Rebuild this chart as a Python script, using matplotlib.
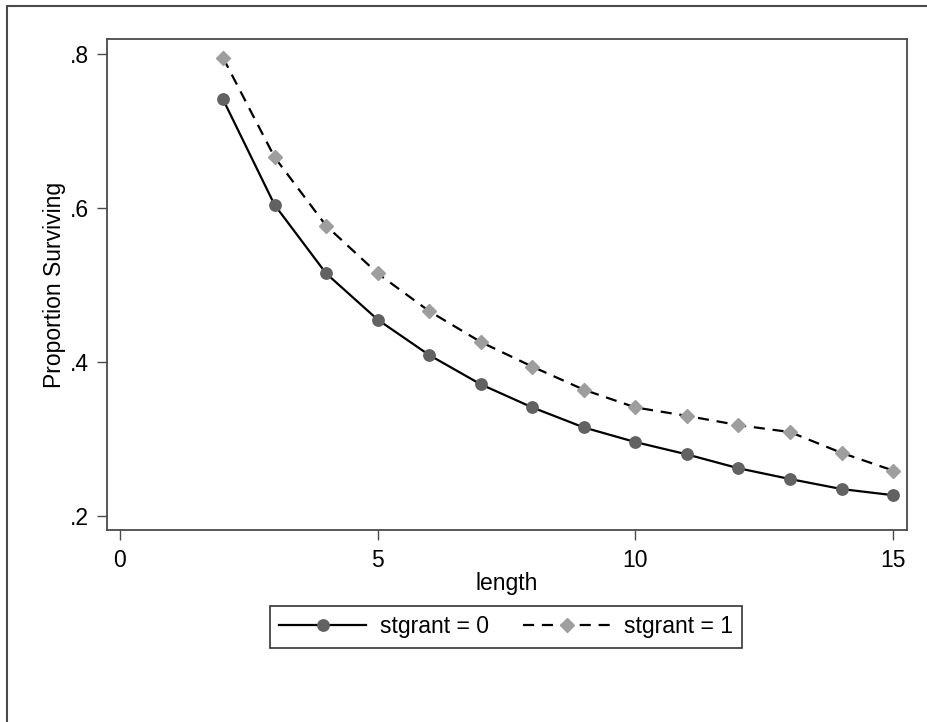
import matplotlib
matplotlib.use("Agg")
import matplotlib.pyplot as plt
from matplotlib.patches import Rectangle

plt.rcParams['font.family'] = ['Liberation Sans', 'DejaVu Sans']

# survival proportions by length, for each stgrant group
length = [2, 3, 4, 5, 6, 7, 8, 9, 10, 11, 12, 13, 14, 15]
surv_g0 = [0.741, 0.604, 0.515, 0.455, 0.409, 0.371, 0.341, 0.315,
           0.296, 0.280, 0.262, 0.248, 0.235, 0.227]
surv_g1 = [0.795, 0.666, 0.577, 0.515, 0.466, 0.426, 0.394, 0.364,
           0.341, 0.330, 0.318, 0.309, 0.282, 0.259]
series_labels = ['stgrant = 0', 'stgrant = 1']
xticks = [0, 5, 10, 15]
yticks = [0.2, 0.4, 0.6, 0.8]
ytick_labels = ['.2', '.4', '.6', '.8']

W, H = 928, 722
fig = plt.figure(figsize=(W / 100, H / 100), dpi=100)
ax = fig.add_axes([107 / W, 1 - 530 / H, (907 - 107) / W, (530 - 39) / H])

fs = 16.5
frame_col = '#4a4a4a'

ax.plot(length, surv_g0, color='black', lw=1.6, marker='o', ms=8.2,
        mfc='#626262', mec='#626262', label=series_labels[0])
ax.plot(length, surv_g1, color='black', lw=1.6, ls=(0, (5, 3.5)), marker='D', ms=7.6,
        mfc='#9e9e9e', mec='#9e9e9e', label=series_labels[1])

ax.set_xlim(-0.252, 15.27)
ax.set_ylim(0.1818, 0.8195)
ax.set_xticks(xticks)
ax.set_yticks(yticks)
ax.set_yticklabels(ytick_labels)
ax.tick_params(axis='both', direction='out', length=7, width=1.0, color=frame_col,
               labelsize=fs)
ax.tick_params(axis='x', pad=7)
ax.tick_params(axis='y', pad=6)
for s in ax.spines.values():
    s.set_color(frame_col)
    s.set_linewidth(1.3)

ax.set_xlabel('length', fontsize=fs, labelpad=0)
ax.set_ylabel('Proportion Surviving', fontsize=fs, labelpad=3)

leg = fig.legend(loc='center', bbox_to_anchor=(506 / W, 1 - 627 / H), ncol=2,
                 fontsize=fs, frameon=True, fancybox=False, edgecolor='black',
                 handlelength=3.8, handletextpad=0.6, columnspacing=1.5,
                 borderpad=0.4)
leg.get_frame().set_linewidth(1.2)

# outer graph border (top and left edges visible)
fig.patches.append(Rectangle((7 / W, -0.1), 1.2, 1.1 - 6 / H, transform=fig.transFigure,
                             fill=False, edgecolor=frame_col, lw=1.5, clip_on=False))

fig.savefig('out.png', dpi=100, facecolor='white')
